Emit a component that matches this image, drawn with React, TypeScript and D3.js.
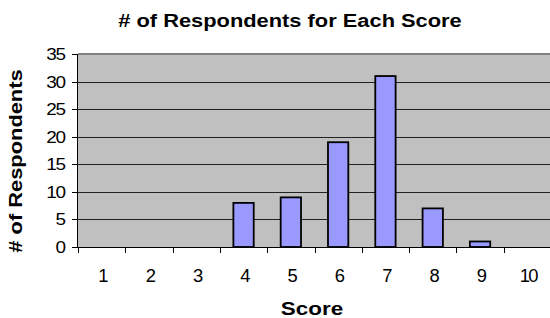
import React from "react";
import * as d3 from "d3";

const categories = ["1", "2", "3", "4", "5", "6", "7", "8", "9", "10"];
const values = [0, 0, 0, 8, 9, 19, 31, 7, 1, 0];
const yTicks = [0, 5, 10, 15, 20, 25, 30, 35];
const title = "# of Respondents for Each Score";
const xTitle = "Score";
const yTitle = "# of Respondents";

const W = 550, H = 318;
const M = { left: 78, right: 551, top: 54, bottom: 247 };

function T({ x, y, size, sx = 1, anchor = "middle", bold = false, rot = 0, ls = 0, dy = "0", children }: any) {
  return (
    <g transform={`translate(${x},${y}) rotate(${rot}) scale(${sx},1)`}>
      <text x={0} y={0} dy={dy} textAnchor={anchor} fontSize={size} fontWeight={bold ? "bold" : "normal"} letterSpacing={ls}>{children}</text>
    </g>
  );
}

export default function App() {
  const x = d3.scaleBand<string>().domain(categories).range([M.left, M.right]).paddingInner(0).paddingOuter(0);
  const y = d3.scaleLinear().domain([0, 35]).range([M.bottom, M.top]);
  const bw = x.bandwidth() * 0.43;
  const font = "Arial, 'Liberation Sans', sans-serif";
  return (
    <svg width={W} height={H} style={{ position: "absolute", left: 0, top: 0, background: "#fff" }} fontFamily={font}>
      <rect x={M.left} y={M.top} width={M.right - M.left} height={M.bottom - M.top} fill="#c0c0c0" />
      <line x1={M.left} x2={M.right} y1={M.top} y2={M.top} stroke="#808080" strokeWidth={2} />
      {yTicks.filter(t => t > 0 && t < 35).map(t => (
        <line key={t} x1={M.left} x2={M.right} y1={Math.round(y(t)) + 0.5} y2={Math.round(y(t)) + 0.5} stroke="#222" strokeWidth={1} />
      ))}
      {values.map((v, i) => v > 0 ? (
        <rect key={i} x={x(categories[i])! + (x.bandwidth() - bw) / 2} y={y(v)} width={bw} height={y(0) - y(v)}
          fill="#9999ff" stroke="#000" strokeWidth={1.8} />
      ) : null)}
      <line x1={M.left - 0.5} x2={M.left - 0.5} y1={M.top} y2={M.bottom} stroke="#000" strokeWidth={1} />
      <line x1={M.left} x2={M.right} y1={M.bottom + 0.5} y2={M.bottom + 0.5} stroke="#000" strokeWidth={1} />
      {yTicks.map(t => (
        <g key={t}>
          <line x1={M.left - 6} x2={M.left} y1={Math.round(y(t)) + 0.5} y2={Math.round(y(t)) + 0.5} stroke="#000" />
          <T x={65} y={y(t)} dy="0.36em" anchor="end" size={16.5} sx={1.15} ls={-1}>{t}</T>
        </g>
      ))}
      {categories.map(c => (
        <g key={c}>
          <line x1={Math.round(x(c)!) + 0.5} x2={Math.round(x(c)!) + 0.5} y1={M.bottom} y2={M.bottom + 6} stroke="#000" />
          <T x={x(c)! + x.bandwidth() / 2 + 1} y={282} size={17.5} sx={1.05} ls={-1.5}>{c}</T>
        </g>
      ))}
      <T x={290} y={27} size={19} sx={1.15} bold>{title}</T>
      <T x={312} y={315} size={19} sx={1.18} bold>{xTitle}</T>
      <T x={22} y={161} size={19} sx={1.15} rot={-90} bold>{yTitle}</T>
    </svg>
  );
}
